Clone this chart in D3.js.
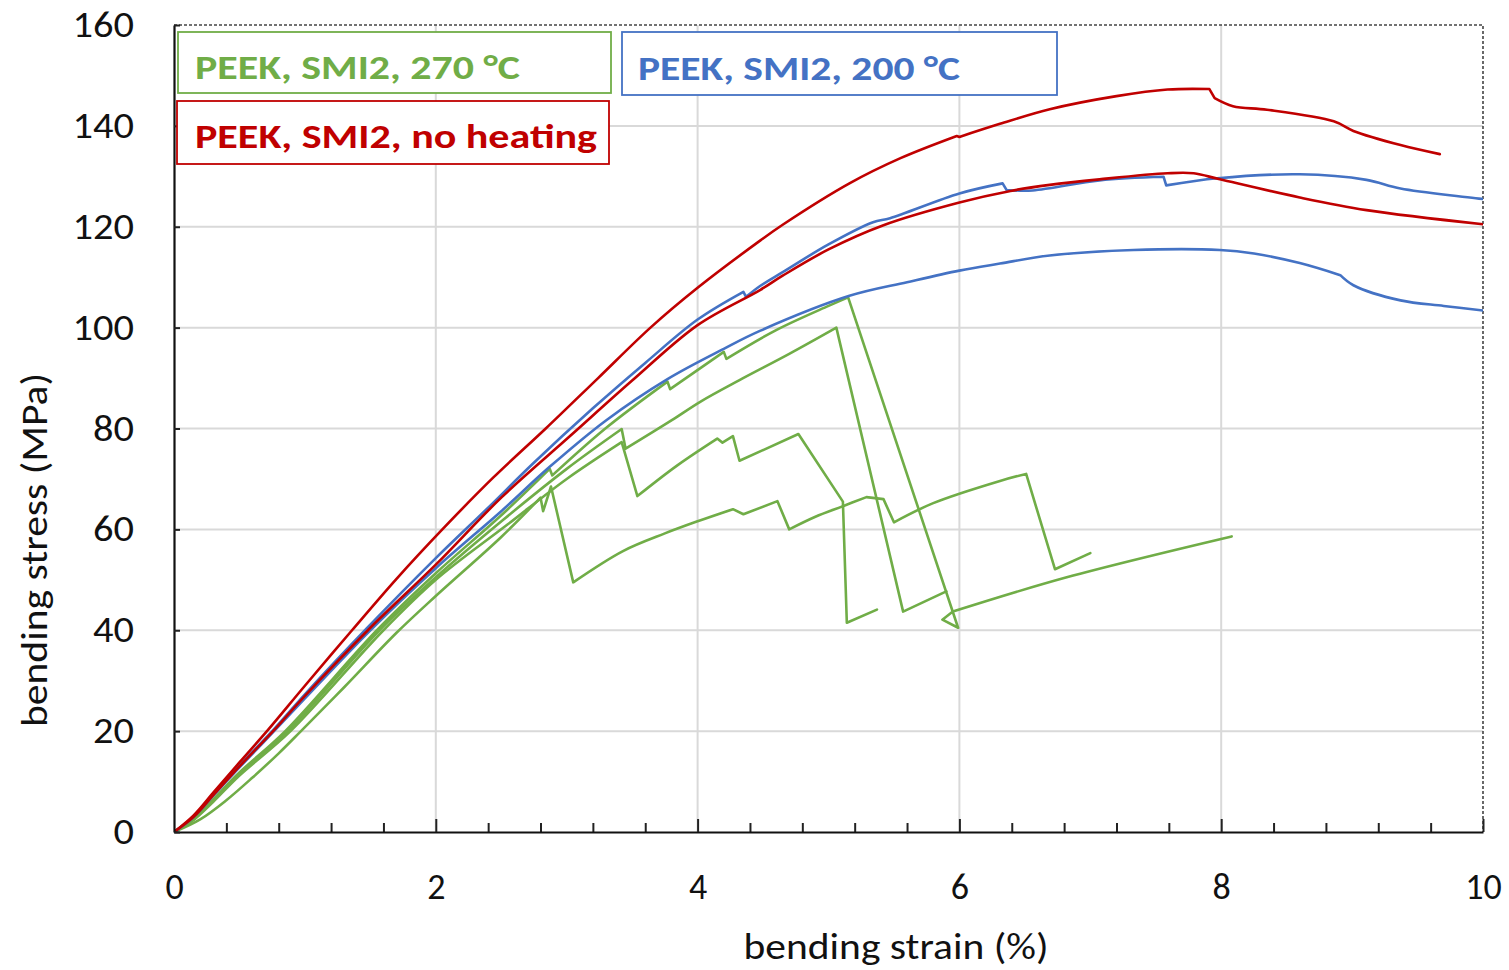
<!DOCTYPE html>
<html><head><meta charset="utf-8">
<script src="https://cdn.jsdelivr.net/npm/d3@7"></script>
<style>body{margin:0;background:#fff}svg{display:block}</style>
</head><body><svg id="c" width="1509" height="970"></svg>
<script>
// ---- data (bending strain %, bending stress MPa) ----
const xTickValues = [0, 2, 4, 6, 8, 10];
const xMinorValues = [0.4,0.8,1.2,1.6,2.4,2.8,3.2,3.6,4.4,4.8,5.2,5.6,6.4,6.8,7.2,7.6,8.4,8.8,9.2,9.6];
const yTickValues = [0, 20, 40, 60, 80, 100, 120, 140, 160];
const legendLabels = ["PEEK, SMI2, 270 °C", "PEEK, SMI2, 200 °C", "PEEK, SMI2, no heating"];

const redNoHeat1 = [[0,0],[0.15,3.3],[0.3,7.8],[0.5,13.8],[0.71,20],[1.0,29],[1.36,40],[1.7,50.2],[2.05,60],[2.44,70.3],[2.84,80],[3.24,90],[3.64,100],[4.0,107.9],[4.48,117.3],[4.65,120.4],[5.16,128.6],[5.55,133.6],[5.98,138],[6.0,137.8],[6.31,140.4],[6.69,143.3],[7.2,145.9],[7.59,147.2],[7.91,147.3],[7.95,145.5],[8.09,143.9],[8.35,143.2],[8.86,140.9],[9.01,139],[9.37,136.2],[9.67,134.4]];
const redNoHeat2 = [[0,0],[0.15,3],[0.3,7.3],[0.5,13],[0.75,19.8],[1.0,27],[1.5,40.5],[2.0,53],[2.5,66.3],[3.03,78.6],[3.5,89.5],[4.0,100.5],[4.48,107.5],[4.65,110.3],[5.0,115.5],[5.42,120.3],[6.0,124.8],[6.39,127.1],[6.69,128.3],[7.07,129.4],[7.59,130.6],[7.79,130.6],[7.99,129.4],[8.6,125.8],[9.11,123.3],[10,120.5]];
const blue200a = [[0,0],[0.15,3],[0.3,7.4],[0.5,13.2],[0.75,20],[1.0,27.3],[1.47,40.3],[2.0,54.3],[2.4,64.3],[2.745,73.1],[3.2,84],[3.6,93],[4.0,101.6],[4.35,107.1],[4.37,106.1],[4.48,108.3],[4.65,111],[5.0,116.5],[5.34,120.9],[5.47,121.7],[6.0,126.6],[6.33,128.6],[6.36,127.3],[6.56,127.2],[7.07,129.2],[7.56,129.9],[7.58,128.2],[7.97,129.6],[8.6,130.4],[9.11,129.3],[9.37,127.6],[10,125.5]];
const blue200b = [[0,0],[0.15,3],[0.3,7.2],[0.5,12.8],[0.75,19.6],[1.0,26.5],[1.5,40],[2.0,52.3],[2.5,63.6],[2.87,72.4],[3.3,81.6],[3.77,89.8],[4.2,95.8],[4.48,99.4],[5.16,106.3],[5.6,109],[6.0,111.3],[6.31,112.7],[6.69,114.3],[7.33,115.4],[7.99,115.4],[8.25,114.7],[8.6,112.8],[8.91,110.4],[9.01,108.4],[9.37,105.4],[9.7,104.3],[10,103.4]];
const green270a = [[0,0],[0.15,2.6],[0.3,6.5],[0.5,11.8],[0.85,20],[1.55,40],[2.0,51.3],[2.5,62.8],[2.87,72],[2.89,70.7],[3.3,80.1],[3.77,89.3],[3.79,87.8],[4.2,95.2],[4.22,93.8],[4.6,99.5],[5.0,104.3],[5.15,106],[5.99,40.5],[5.87,42.1],[5.95,43.7],[6.82,50.5],[8.08,58.6]];
const green270b = [[0,0],[0.15,2.5],[0.3,6.2],[0.5,11.5],[0.87,20],[1.57,40],[2.0,50.5],[2.52,62],[3.0,72],[3.42,79.9],[3.45,76],[3.8,81.6],[4.02,85.3],[4.32,89.6],[4.7,94.8],[5.06,100],[5.57,43.7],[5.9,47.7]];
const green270c = [[0,0],[0.15,2.4],[0.3,6],[0.5,11.2],[0.89,20],[1.6,40],[2.0,50],[2.55,61],[3.0,70],[3.42,77.3],[3.54,66.6],[3.84,72.6],[4.15,78],[4.19,77.2],[4.27,78.5],[4.32,73.6],[4.77,78.9],[5.11,65.5],[5.14,41.5],[5.37,44.1]];
const green270d = [[0,0],[0.2,2.5],[0.4,6.3],[0.6,10.8],[0.8,15.6],[0.97,20],[1.3,28.7],[1.7,39.5],[2.0,46.8],[2.5,58.5],[2.8,66.3],[2.82,63.6],[2.88,68.5],[3.05,49.5],[3.43,55.7],[3.75,59.2],[4.0,61.6],[4.27,64],[4.35,63],[4.61,65.6],[4.7,60],[4.9,62.5],[5.11,64.6],[5.29,66.4],[5.42,66],[5.5,61.4],[5.8,65.2],[6.31,69.6],[6.51,71],[6.73,52.1],[7.0,55.3]];

const GREEN = "#70AD47", BLUE = "#4472C4", RED = "#C00000";
const series = [
  {pts: green270a, c: GREEN}, {pts: green270b, c: GREEN}, {pts: green270c, c: GREEN}, {pts: green270d, c: GREEN},
  {pts: blue200a, c: BLUE}, {pts: blue200b, c: BLUE},
  {pts: redNoHeat1, c: RED}, {pts: redNoHeat2, c: RED}
];

// ---- chart ----
const FONT = "Carlito, Calibri, Lato, sans-serif";
const svg = d3.select("#c");
svg.append("rect").attr("width",1509).attr("height",970).attr("fill","#fff");
const x = d3.scaleLinear().domain([0,10]).range([174,1483]);
const y = d3.scaleLinear().domain([0,160]).range([832,25]);

// grid
svg.append("g").selectAll("line").data(yTickValues.filter(v=>v>0&&v<160)).join("line")
  .attr("x1",x(0)).attr("x2",x(10)).attr("y1",d=>y(d)).attr("y2",d=>y(d))
  .attr("stroke","#d9d9d9").attr("stroke-width",2);
svg.append("g").selectAll("line").data(xTickValues.filter(v=>v>0&&v<10)).join("line")
  .attr("x1",d=>x(d)).attr("x2",d=>x(d)).attr("y1",y(0)).attr("y2",y(160))
  .attr("stroke","#d9d9d9").attr("stroke-width",2);

// dashed top/right border
svg.append("path").attr("d",`M${x(0)},${y(160)}H${x(10)}V${y(0)}`)
  .attr("fill","none").attr("stroke","#444").attr("stroke-width",1.6).attr("stroke-dasharray","3,2");

// curves: smooth runs between sharp corners
svg.append("defs").append("clipPath").attr("id","clip").append("rect")
  .attr("x",x(0)).attr("y",y(160)).attr("width",x(10)-x(0)).attr("height",y(0)-y(160));
const smooth = d3.line().x(d=>x(d[0])).y(d=>y(d[1])).curve(d3.curveCatmullRom.alpha(0.5));
const straight = d3.line().x(d=>x(d[0])).y(d=>y(d[1]));
function pathFor(pts){
  const ang = (a,b)=>Math.atan2(y(b[1])-y(a[1]), x(b[0])-x(a[0]));
  const cuts = [0];
  for(let i=1;i<pts.length-1;i++){
    let d = Math.abs(ang(pts[i],pts[i+1]) - ang(pts[i-1],pts[i]));
    if(d>Math.PI) d = 2*Math.PI-d;
    if(d > 20*Math.PI/180) cuts.push(i);
  }
  cuts.push(pts.length-1);
  let s = "";
  for(let k=0;k<cuts.length-1;k++){
    const run = pts.slice(cuts[k], cuts[k+1]+1);
    let p = run.length>2 ? smooth(run) : straight(run);
    if(k>0) p = "L" + p.slice(1);
    s += p;
  }
  return s;
}
svg.append("g").attr("clip-path","url(#clip)").selectAll("path").data(series).join("path")
  .attr("d",d=>pathFor(d.pts)).attr("fill","none").attr("stroke",d=>d.c)
  .attr("stroke-width",2.6).attr("stroke-linejoin","round").attr("stroke-linecap","round");

// axes
const gx = svg.append("g").attr("transform",`translate(0,${y(0)})`);
gx.call(d3.axisBottom(x).tickValues(xMinorValues).tickSize(-9).tickSizeOuter(0).tickFormat(""));
gx.select(".domain").remove();
const gx2 = svg.append("g").attr("transform",`translate(0,${y(0)})`);
gx2.call(d3.axisBottom(x).tickValues(xTickValues).tickSize(-13).tickSizeOuter(0).tickPadding(41).tickFormat(d3.format("d")));
svg.selectAll(".tick line").attr("stroke","#222").attr("stroke-width",2);
gx2.select(".domain").attr("stroke","#111").attr("stroke-width",2.2);
gx2.selectAll("text").attr("font-family",FONT).attr("font-size",36).attr("fill","#111");

const gy = svg.append("g").attr("transform",`translate(${x(0)},0)`);
gy.call(d3.axisLeft(y).tickValues(yTickValues).tickSize(-6).tickSizeOuter(0).tickPadding(40));
gy.selectAll(".tick line").attr("stroke","#222").attr("stroke-width",2);
gy.select(".domain").attr("stroke","#111").attr("stroke-width",2.2);
gy.selectAll("text").attr("font-family",FONT).attr("font-size",36).attr("fill","#111")
  .attr("textLength",d=>String(d).length*20.5).attr("lengthAdjust","spacingAndGlyphs");
gx2.selectAll(".tick").filter(d=>d===0).select("line").remove();

// axis titles
svg.append("text").attr("x",896).attr("y",959).attr("text-anchor","middle")
  .attr("font-family",FONT).attr("font-size",36).attr("fill","#111")
  .attr("textLength",305).attr("lengthAdjust","spacingAndGlyphs").text("bending strain (%)");
svg.append("text").attr("transform","translate(47,550) rotate(-90)").attr("text-anchor","middle")
  .attr("font-family",FONT).attr("font-size",36).attr("fill","#111")
  .attr("textLength",354).attr("lengthAdjust","spacingAndGlyphs").text("bending stress (MPa)");

// legend boxes
const legendBoxes = [
  {label: legendLabels[0], c: GREEN, bx:178, by:32, bw:433, bh:61, tx:195, ty:79, tl:325},
  {label: legendLabels[1], c: BLUE, bx:622, by:32, bw:435, bh:63, tx:638, ty:80, tl:322},
  {label: legendLabels[2], c: RED, bx:177, by:101, bw:432, bh:63, tx:195, ty:148, tl:402}
];
const lg = svg.append("g").selectAll("g").data(legendBoxes).join("g");
lg.append("rect").attr("x",d=>d.bx).attr("y",d=>d.by).attr("width",d=>d.bw).attr("height",d=>d.bh)
  .attr("fill","#fff").attr("stroke",d=>d.c).attr("stroke-width",1.8);
lg.append("text").attr("x",d=>d.tx).attr("y",d=>d.ty).attr("fill",d=>d.c)
  .attr("font-family",FONT).attr("font-weight",700).attr("font-size",35)
  .attr("textLength",d=>d.tl).attr("lengthAdjust","spacingAndGlyphs").text(d=>d.label);
</script></body></html>
